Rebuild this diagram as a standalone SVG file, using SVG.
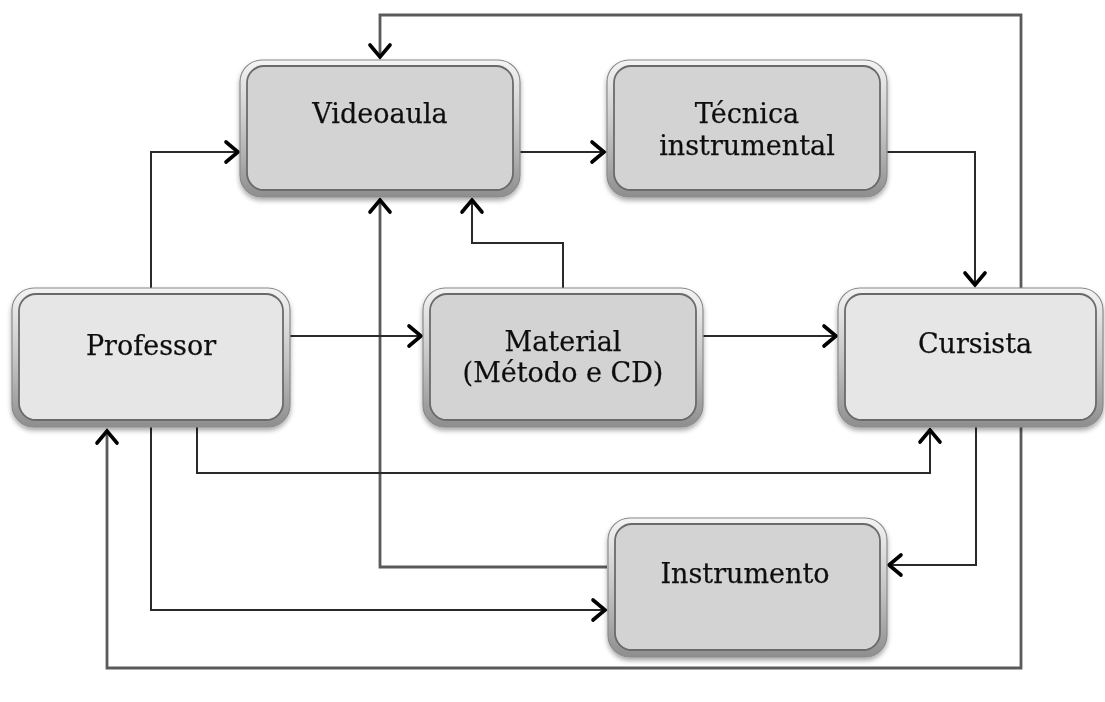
<svg xmlns="http://www.w3.org/2000/svg" width="1105" height="702" viewBox="0 0 1105 702">
<style>
.lbl{font-family:"DejaVu Serif","Liberation Serif",serif;font-size:27px;fill:#111;text-anchor:middle;stroke:#111;stroke-width:0.25}
.outer{stroke:#8a8a8a;stroke-width:1.2;fill:url(#bev)}
.inner{stroke:#6a6a6a;stroke-width:1.8}
.light{fill:#e6e6e6}
.dark{fill:#d3d3d3}
.c{fill:none;stroke:#2a2a2a;stroke-width:2;marker-end:url(#ah)}
.cg{fill:none;stroke:#5a5a5a;stroke-width:2.8;marker-end:url(#ah)}
</style>
<defs>
<linearGradient id="bev" x1="0" y1="0" x2="0" y2="1">
<stop offset="0" stop-color="#f4f4f4"/>
<stop offset="0.5" stop-color="#c6c6c6"/>
<stop offset="1" stop-color="#8e8e8e"/>
</linearGradient>
<filter id="sh" x="-10%" y="-10%" width="120%" height="130%">
<feGaussianBlur in="SourceAlpha" stdDeviation="2.5"/>
<feOffset dx="0" dy="3" result="b"/>
<feComponentTransfer><feFuncA type="linear" slope="0.35"/></feComponentTransfer>
<feMerge><feMergeNode/><feMergeNode in="SourceGraphic"/></feMerge>
</filter>
<marker id="ah" markerUnits="userSpaceOnUse" viewBox="-16 -14 20 28" refX="0" refY="0" markerWidth="20" markerHeight="28" orient="auto" overflow="visible">
<path d="M-12,-10 L0,0 L-12,10" fill="none" stroke="#000" stroke-width="3.6" stroke-linecap="round" stroke-linejoin="miter"/>
</marker>
</defs>
<g id="connectors">
<path class="cg" d="M1021,288 V15 H380 V57"/>
<path class="cg" d="M1021,427 V668 H107 V431"/>
<path class="c" d="M151,288 V152 H238"/>
<path class="c" d="M520,152 H604"/>
<path class="c" d="M887,152 H975 V285"/>
<path class="c" d="M563,288 V243 H472 V200"/>
<path class="cg" d="M607,567 H380 V200"/>
<path class="c" d="M290,336 H421"/>
<path class="c" d="M703,336 H836"/>
<path class="c" d="M197,427 V473 H930 V430"/>
<path class="c" d="M151,427 V610 H605"/>
<path class="c" d="M976,427 V565 H889"/>
</g>
<g id="videoaula" filter="url(#sh)">
<rect class="outer" x="240" y="60" width="280" height="137" rx="22"/>
<rect class="inner dark" x="247" y="66" width="266" height="124" rx="17"/>
<text class="lbl" x="380" y="123">Videoaula</text>
</g>
<g id="tecnica" filter="url(#sh)">
<rect class="outer" x="607" y="60" width="280" height="137" rx="22"/>
<rect class="inner dark" x="614" y="66" width="266" height="124" rx="17"/>
<text class="lbl" x="747" y="123">Técnica</text>
<text class="lbl" x="747" y="155">instrumental</text>
</g>
<g id="professor" filter="url(#sh)">
<rect class="outer" x="12" y="288" width="278" height="139" rx="22"/>
<rect class="inner light" x="19" y="294" width="264" height="126" rx="17"/>
<text class="lbl" x="151" y="355">Professor</text>
</g>
<g id="material" filter="url(#sh)">
<rect class="outer" x="423" y="288" width="280" height="139" rx="22"/>
<rect class="inner dark" x="430" y="294" width="266" height="126" rx="17"/>
<text class="lbl" x="563" y="351">Material</text>
<text class="lbl" x="563" y="382">(Método e CD)</text>
</g>
<g id="cursista" filter="url(#sh)">
<rect class="outer" x="838" y="288" width="265" height="139" rx="22"/>
<rect class="inner light" x="845" y="294" width="251" height="126" rx="17"/>
<text class="lbl" x="975" y="353">Cursista</text>
</g>
<g id="instrumento" filter="url(#sh)">
<rect class="outer" x="608" y="518" width="279" height="139" rx="22"/>
<rect class="inner dark" x="615" y="524" width="265" height="126" rx="17"/>
<text class="lbl" x="745" y="583">Instrumento</text>
</g>
</svg>
